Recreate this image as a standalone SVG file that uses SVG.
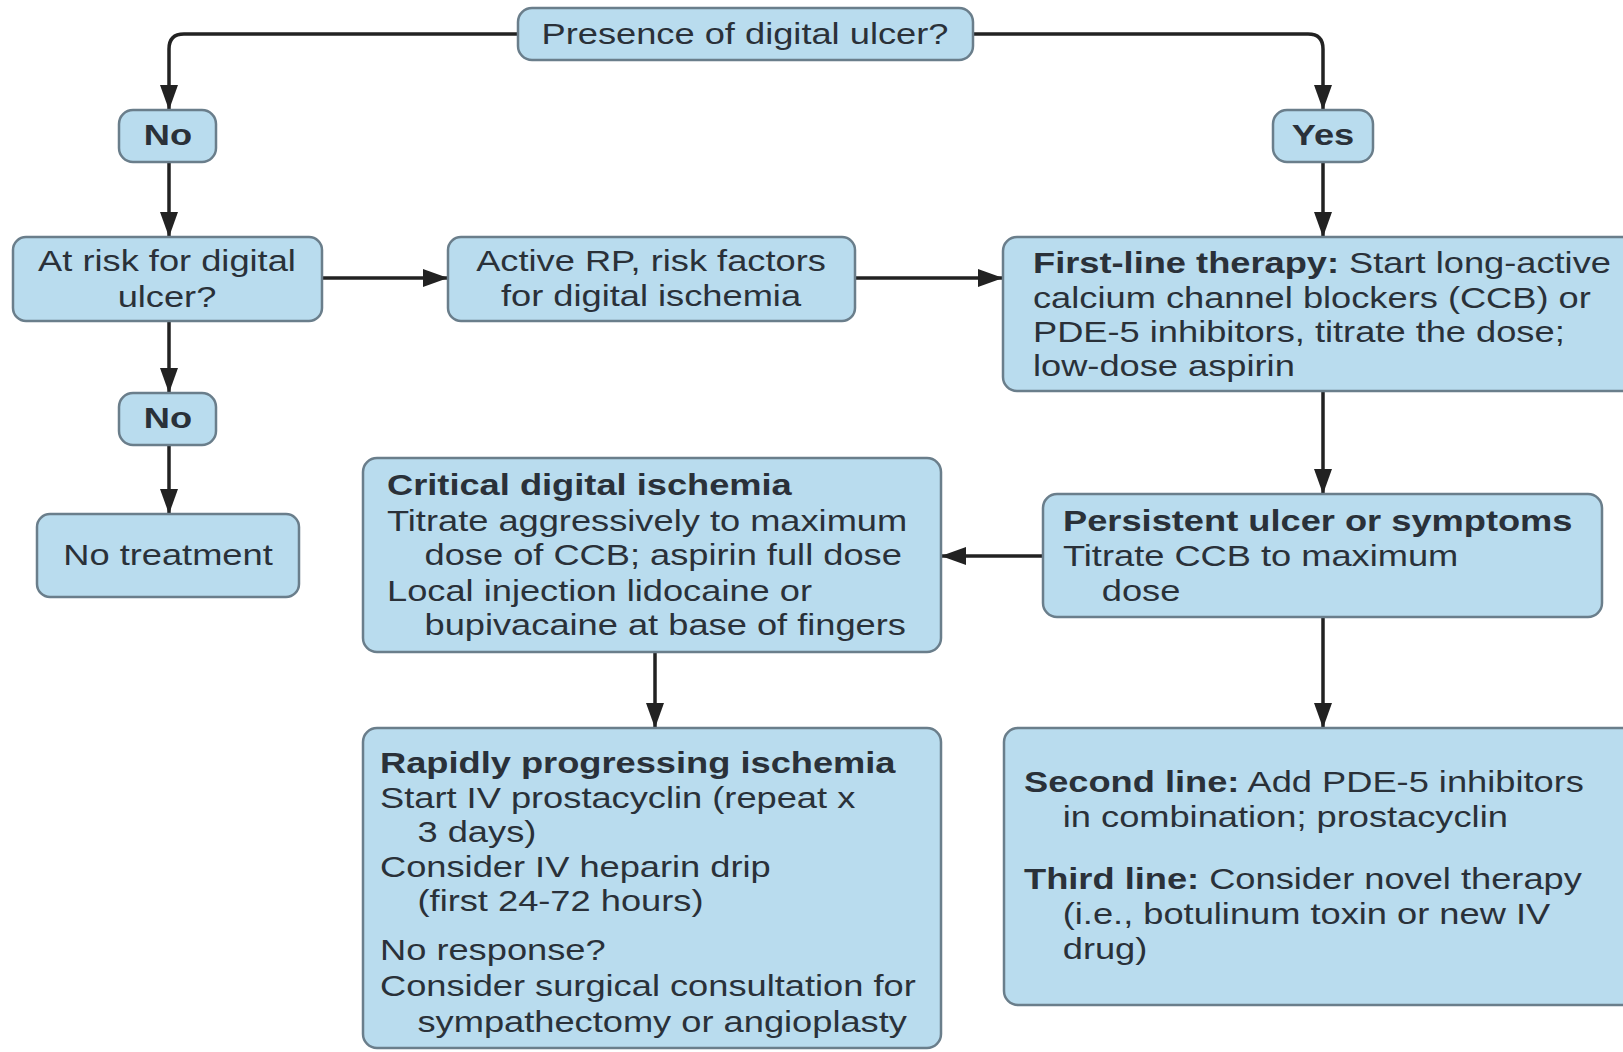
<svg xmlns="http://www.w3.org/2000/svg" width="1623" height="1052" viewBox="0 0 1623 1052">
<style>
.box{fill:#b9dcee;stroke:#6a7e8b;stroke-width:2.5}
.t{font-family:"Liberation Sans",Arial,Helvetica,sans-serif;font-size:29px;fill:#2a3139}
.b{font-weight:bold}
.c{text-anchor:middle}
.conn path{fill:none;stroke:#222;stroke-width:3.5}
</style>
<defs>
<marker id="ah" markerUnits="userSpaceOnUse" markerWidth="27" markerHeight="20" refX="25" refY="10" orient="auto">
<path d="M0,1 L25,10 L0,19 z" fill="#222"/>
</marker>
</defs>
<rect width="1623" height="1052" fill="#ffffff"/>
<g class="conn">
<path d="M518,34 H184 Q169,34 169,49 V110" marker-end="url(#ah)"/>
<path d="M973,34 H1308 Q1323,34 1323,49 V110" marker-end="url(#ah)"/>
<path d="M169,162 V237" marker-end="url(#ah)"/>
<path d="M169,321 V393" marker-end="url(#ah)"/>
<path d="M169,445 V514" marker-end="url(#ah)"/>
<path d="M322,278 H448" marker-end="url(#ah)"/>
<path d="M855,278 H1003" marker-end="url(#ah)"/>
<path d="M1323,162 V237" marker-end="url(#ah)"/>
<path d="M1323,391 V494" marker-end="url(#ah)"/>
<path d="M1043,556 H941" marker-end="url(#ah)"/>
<path d="M1323,617 V728" marker-end="url(#ah)"/>
<path d="M655,652 V728" marker-end="url(#ah)"/>
</g>
<g id="presence">
<rect class="box" x="518" y="8" width="455" height="52" rx="14"/>
<text class="t c" transform="translate(745,0) scale(1.25,1)" x="0" y="44">Presence of digital ulcer?</text>
</g>
<g id="no1">
<rect class="box" x="119" y="110" width="97" height="52" rx="14"/>
<text class="t b c" transform="translate(168,0) scale(1.25,1)" x="0" y="145">No</text>
</g>
<g id="yes">
<rect class="box" x="1273" y="110" width="100" height="52" rx="14"/>
<text class="t b c" transform="translate(1323,0) scale(1.25,1)" x="0" y="145">Yes</text>
</g>
<g id="atrisk">
<rect class="box" x="13" y="237" width="309" height="84" rx="13"/>
<text class="t c" transform="translate(167,0) scale(1.25,1)"><tspan x="0" y="271">At risk for digital</tspan><tspan x="0" y="307">ulcer?</tspan></text>
</g>
<g id="activerp">
<rect class="box" x="448" y="237" width="407" height="84" rx="13"/>
<text class="t c" transform="translate(651,0) scale(1.25,1)"><tspan x="0" y="271">Active RP, risk factors</tspan><tspan x="0" y="306">for digital ischemia</tspan></text>
</g>
<g id="firstline">
<rect class="box" x="1003" y="237" width="650" height="154" rx="14"/>
<text class="t" transform="translate(1033,0) scale(1.25,1)"><tspan x="0" y="273"><tspan class="b">First-line therapy:</tspan> Start long-active</tspan><tspan x="0" y="308">calcium channel blockers (CCB) or</tspan><tspan x="0" y="342">PDE-5 inhibitors, titrate the dose;</tspan><tspan x="0" y="376">low-dose aspirin</tspan></text>
</g>
<g id="no2">
<rect class="box" x="119" y="393" width="97" height="52" rx="14"/>
<text class="t b c" transform="translate(168,0) scale(1.25,1)" x="0" y="428">No</text>
</g>
<g id="notreatment">
<rect class="box" x="37" y="514" width="262" height="83" rx="13"/>
<text class="t c" transform="translate(168,0) scale(1.25,1)" x="0" y="565">No treatment</text>
</g>
<g id="critical">
<rect class="box" x="363" y="458" width="578" height="194" rx="14"/>
<text class="t" transform="translate(387,0) scale(1.25,1)"><tspan class="b" x="0" y="495">Critical digital ischemia</tspan><tspan x="0" y="531">Titrate aggressively to maximum</tspan><tspan x="30" y="565">dose of CCB; aspirin full dose</tspan><tspan x="0" y="601">Local injection lidocaine or</tspan><tspan x="30" y="635">bupivacaine at base of fingers</tspan></text>
</g>
<g id="persistent">
<rect class="box" x="1043" y="494" width="559" height="123" rx="14"/>
<text class="t" transform="translate(1063,0) scale(1.25,1)"><tspan class="b" x="0" y="531">Persistent ulcer or symptoms</tspan><tspan x="0" y="566">Titrate CCB to maximum</tspan><tspan x="31" y="601">dose</tspan></text>
</g>
<g id="rapidly">
<rect class="box" x="363" y="728" width="578" height="320" rx="14"/>
<text class="t" transform="translate(380,0) scale(1.25,1)"><tspan class="b" x="0" y="773">Rapidly progressing ischemia</tspan><tspan x="0" y="808">Start IV prostacyclin (repeat x</tspan><tspan x="30" y="842">3 days)</tspan><tspan x="0" y="877">Consider IV heparin drip</tspan><tspan x="30" y="911">(first 24-72 hours)</tspan><tspan x="0" y="960">No response?</tspan><tspan x="0" y="996">Consider surgical consultation for</tspan><tspan x="30" y="1032">sympathectomy or angioplasty</tspan></text>
</g>
<g id="secondline">
<rect class="box" x="1004" y="728" width="650" height="277" rx="14"/>
<text class="t" transform="translate(1024,0) scale(1.25,1)"><tspan x="0" y="792"><tspan class="b">Second line:</tspan> Add PDE-5 inhibitors</tspan><tspan x="31" y="827">in combination; prostacyclin</tspan><tspan x="0" y="889"><tspan class="b">Third line:</tspan> Consider novel therapy</tspan><tspan x="31" y="924">(i.e., botulinum toxin or new IV</tspan><tspan x="31" y="959">drug)</tspan></text>
</g>
</svg>
